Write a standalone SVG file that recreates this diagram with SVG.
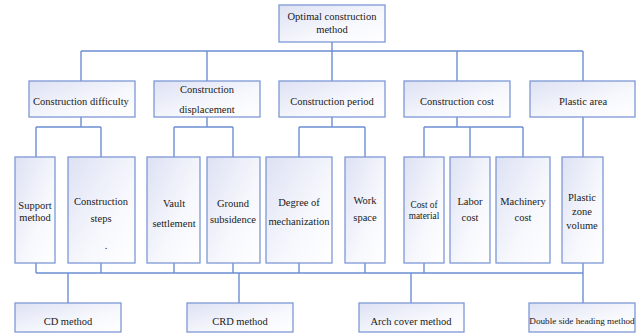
<svg xmlns="http://www.w3.org/2000/svg" width="641" height="336" viewBox="0 0 641 336" font-family="'Liberation Serif', 'Times New Roman', 'DejaVu Serif', serif">
<defs>
<linearGradient id="g" x1="0" y1="0" x2="1" y2="1">
<stop offset="0" stop-color="#dde1f3"/>
<stop offset="0.6" stop-color="#f7f8fd"/>
<stop offset="1" stop-color="#ffffff"/>
</linearGradient>
<style>
.b{fill:url(#g);stroke:#7d98d6;stroke-width:1.3}
.t{font-family:'Liberation Serif','Times New Roman',serif;font-size:10.5px;fill:#1a1a1a;text-anchor:middle}
.s{font-size:9.2px}
.m{font-size:9.3px}
.c{fill:none;stroke:#6e8ed3;stroke-width:1.4}
</style>
</defs>
<rect width="641" height="336" fill="#fff"/>
<g id="connectors" class="c">
<path d="M332 42V51M81 51H583M81 51V81M207 51V81M332 51V81M457 51V81M583 51V81"/>
<path d="M81 117V127M36 127H101M36 127V157M101 127V157"/>
<path d="M207 117V127M174 127H233M174 127V157M233 127V157"/>
<path d="M332 117V127M299 127H365M299 127V157M365 127V157"/>
<path d="M457 117V127M424 127H523M424 127V157M470 127V157M523 127V157"/>
<path d="M583 117V157"/>
<path d="M36 263V273M101 263V273M174 263V273M233 263V273M299 263V273M365 263V273M424 263V273M583 263V273M36 273H583"/>
<path d="M68 273V303M239 273V303M411 273V303M583 273V303"/>
</g>
<g id="n0"><rect class="b" x="279" y="5" width="106" height="37"/><text class="t" x="332" y="20">Optimal construction</text><text class="t" x="332" y="33">method</text></g>
<g id="n1"><rect class="b" x="29" y="81" width="106" height="36"/><text class="t" x="81" y="105">Construction difficulty</text></g>
<g id="n2"><rect class="b" x="154" y="81" width="106" height="36"/><text class="t" x="207" y="93">Construction</text><text class="t" x="207" y="113">displacement</text></g>
<g id="n3"><rect class="b" x="279" y="81" width="106" height="36"/><text class="t" x="332" y="105">Construction period</text></g>
<g id="n4"><rect class="b" x="404" y="81" width="106" height="36"/><text class="t" x="457" y="105">Construction cost</text></g>
<g id="n5"><rect class="b" x="530" y="81" width="105" height="36"/><text class="t" x="583" y="105">Plastic area</text></g>
<g id="n6"><rect class="b" x="15" y="157" width="40" height="106"/><text class="t" x="35" y="209">Support</text><text class="t" x="35" y="221">method</text></g>
<g id="n7"><rect class="b" x="68" y="157" width="67" height="106"/><text class="t" x="101" y="205">Construction</text><text class="t" x="101" y="222">steps</text><text class="t" x="106" y="249">.</text></g>
<g id="n8"><rect class="b" x="147" y="157" width="53" height="106"/><text class="t" x="174" y="207">Vault</text><text class="t" x="174" y="227">settlement</text></g>
<g id="n9"><rect class="b" x="207" y="157" width="53" height="106"/><text class="t" x="233" y="207">Ground</text><text class="t" x="233" y="223">subsidence</text></g>
<g id="n10"><rect class="b" x="266" y="157" width="66" height="106"/><text class="t" x="299" y="206">Degree of</text><text class="t" x="299" y="225">mechanization</text></g>
<g id="n11"><rect class="b" x="345" y="157" width="40" height="106"/><text class="t" x="365" y="204">Work</text><text class="t" x="365" y="221">space</text></g>
<g id="n12"><rect class="b" x="404" y="157" width="40" height="106"/><text class="t m" x="424" y="208">Cost of</text><text class="t m" x="424" y="219">material</text></g>
<g id="n13"><rect class="b" x="450" y="157" width="40" height="106"/><text class="t" x="470" y="205">Labor</text><text class="t" x="470" y="221">cost</text></g>
<g id="n14"><rect class="b" x="496" y="157" width="54" height="106"/><text class="t" x="523" y="205">Machinery</text><text class="t" x="523" y="221">cost</text></g>
<g id="n15"><rect class="b" x="562" y="157" width="41" height="106"/><text class="t" x="582" y="201">Plastic</text><text class="t" x="582" y="215">zone</text><text class="t" x="582" y="229">volume</text></g>
<g id="n16"><rect class="b" x="15" y="303" width="106" height="29"/><text class="t" x="68" y="325">CD method</text></g>
<g id="n17"><rect class="b" x="187" y="303" width="106" height="29"/><text class="t" x="240" y="325">CRD method</text></g>
<g id="n18"><rect class="b" x="359" y="303" width="105" height="29"/><text class="t" x="411" y="325">Arch cover method</text></g>
<g id="n19"><rect class="b" x="529" y="303" width="106" height="29"/><text class="t s" x="582" y="324">Double side heading method</text></g>
</svg>
